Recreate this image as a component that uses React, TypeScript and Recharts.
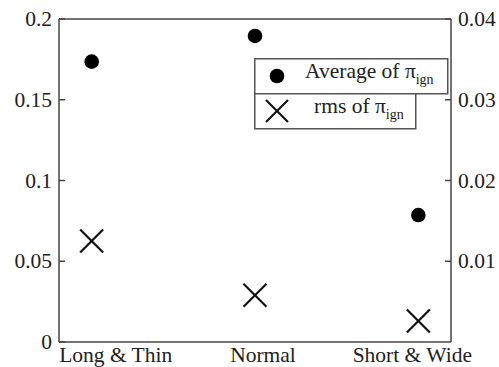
import { ComposedChart, ReferenceLine, Scatter, XAxis, YAxis } from 'recharts'

const categories = ['Long & Thin', 'Normal', 'Short & Wide']
const averagePi = [0.1736, 0.1895, 0.0786]
const rmsPi = [0.0125, 0.0058, 0.0026]
const leftTicks = [0, 0.05, 0.1, 0.15, 0.2]
const rightTicks = [0.01, 0.02, 0.03, 0.04]
// label nudges so the category names sit where the original plot put them
const labelShift = [24, 8, -6]

const avgData = averagePi.map((y, i) => ({ x: i, y }))
const rmsData = rmsPi.map((y, i) => ({ x: i, y }))

const FONT = '"Liberation Serif", "Times New Roman", serif'
const INK = '#222'
const FRAME = '#444'

/** Filled marker for the average series. */
function Dot(props: any) {
  const { cx, cy } = props
  return <circle cx={cx} cy={cy} r={7.3} fill="#000" />
}

/** Cross marker for the rms series. */
function Cross(props: any) {
  const { cx, cy } = props
  const s = 11.5
  return (
    <g stroke="#111" strokeWidth={2.2}>
      <line x1={cx - s} y1={cy - s} x2={cx + s} y2={cy + s} />
      <line x1={cx - s} y1={cy + s} x2={cx + s} y2={cy - s} />
    </g>
  )
}

/** Value tick with a short tick mark pointing into the plot. */
function ValueTick(props: any) {
  const { x, y, payload, side } = props
  const left = side === 'left'
  // x is the label anchor; axis line sits 7px further in
  const axisX = left ? x + 7 : x - 7
  const inner = left ? axisX + 6 : axisX - 6
  return (
    <g>
      <line x1={axisX} y1={y} x2={inner} y2={y} stroke={FRAME} strokeWidth={1.5} />
      <text
        x={x}
        y={y}
        dy={7}
        textAnchor={left ? 'end' : 'start'}
        fontFamily={FONT}
        fontSize={21.5}
        fill={INK}
      >
        {String(payload.value)}
      </text>
    </g>
  )
}

function CategoryTick(props: any) {
  const { x, y, payload } = props
  const i = payload.value as number
  return (
    <text
      x={x + (labelShift[i] ?? 0)}
      y={y + 20}
      textAnchor="middle"
      fontFamily={FONT}
      fontSize={21.5}
      fill={INK}
    >
      {categories[i]}
    </text>
  )
}

function LegendBoxes() {
  return (
    <svg width={196} height={72} style={{ display: 'block' }}>
      <rect x={0.75} y={0.75} width={193} height={35} fill="#fff" stroke="#555" strokeWidth={1.5} />
      <circle cx={23} cy={18} r={7.3} fill="#000" />
      <text x={51} y={20} fontFamily={FONT} fontSize={21.5} fill={INK}>
        Average of π
        <tspan fontSize={14} dy={6}>ign</tspan>
      </text>
      <rect x={0.75} y={35.75} width={161} height={35} fill="#fff" stroke="#555" strokeWidth={1.5} />
      <g stroke="#111" strokeWidth={2.2}>
        <line x1={12} y1={42} x2={34} y2={64} />
        <line x1={12} y1={64} x2={34} y2={42} />
      </g>
      <text x={60} y={55} fontFamily={FONT} fontSize={21.5} fill={INK}>
        rms of π
        <tspan fontSize={14} dy={6}>ign</tspan>
      </text>
    </svg>
  )
}

export default function App() {
  return (
    <div style={{ position: 'absolute', left: 0, top: 0, width: 499, height: 367, background: '#fff' }}>
      <ComposedChart width={499} height={367} margin={{ top: 19, right: 0, bottom: 0, left: 0 }}>
        <XAxis
          type="number"
          dataKey="x"
          domain={[-0.2, 2.2]}
          ticks={[0, 1, 2]}
          allowDataOverflow
          height={25}
          tickSize={0}
          tickMargin={0}
          tickLine={false}
          axisLine={{ stroke: FRAME, strokeWidth: 1.5 }}
          tick={<CategoryTick />}
        />
        <YAxis
          yAxisId="left"
          type="number"
          domain={[0, 0.2]}
          ticks={leftTicks}
          allowDataOverflow
          width={59}
          tickSize={0}
          tickMargin={7}
          tickLine={false}
          axisLine={{ stroke: FRAME, strokeWidth: 1.5 }}
          tick={<ValueTick side="left" />}
        />
        <YAxis
          yAxisId="right"
          orientation="right"
          type="number"
          domain={[0, 0.04]}
          ticks={rightTicks}
          allowDataOverflow
          width={48}
          tickSize={0}
          tickMargin={7}
          tickLine={false}
          axisLine={{ stroke: FRAME, strokeWidth: 1.5 }}
          tick={<ValueTick side="right" />}
        />
        {/* top edge of the plot frame */}
        <ReferenceLine yAxisId="left" y={0.2} stroke={FRAME} strokeWidth={1.5} ifOverflow="visible" />
        <Scatter
          yAxisId="left"
          data={avgData}
          dataKey="y"
          shape={<Dot />}
          isAnimationActive={false}
        />
        <Scatter
          yAxisId="right"
          data={rmsData}
          dataKey="y"
          shape={<Cross />}
          isAnimationActive={false}
        />
      </ComposedChart>
      {/* legend sits over the plot, so it is kept out of the chart's layout */}
      <div style={{ position: 'absolute', left: 254, top: 58 }}>
        <LegendBoxes />
      </div>
    </div>
  )
}
